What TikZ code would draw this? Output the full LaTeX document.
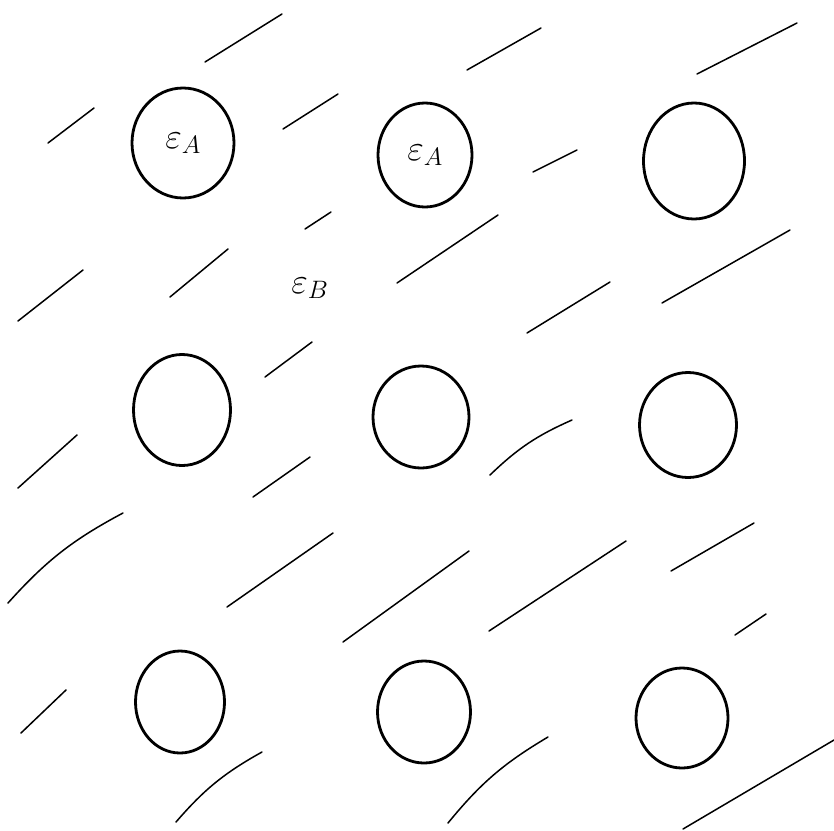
\RequirePackage{fix-cm}
\documentclass[tikz,border=0pt]{standalone}
\usetikzlibrary{shapes.geometric}

\begin{document}
\begin{tikzpicture}[
  x=1pt, y=-1pt,
  line cap=round,
  cell/.style={ellipse, draw, line width=2.8pt, inner sep=0pt, font=\fontsize{36}{40}\selectfont},
  hatch/.style={draw, line width=1.5pt},
  lbl/.style={font=\fontsize{36}{40}\selectfont}
]
  \useasboundingbox (0,0) rectangle (834,830);

  % grid of holes
  \node[cell, minimum width=102pt, minimum height=110pt] (c1) at (183,143) {$\varepsilon_A$};
  \node[cell, minimum width=94pt,  minimum height=104pt] (c2) at (425,155) {$\varepsilon_A$};
  \node[cell, minimum width=101pt, minimum height=116pt] (c3) at (694,161) {};
  \node[cell, minimum width=97pt,  minimum height=111pt] (c4) at (182,410) {};
  \node[cell, minimum width=96pt,  minimum height=102pt] (c5) at (421,417) {};
  \node[cell, minimum width=97pt,  minimum height=105pt] (c6) at (688,425) {};
  \node[cell, minimum width=89pt,  minimum height=102pt] (c7) at (180,702) {};
  \node[cell, minimum width=93pt,  minimum height=102pt] (c8) at (424,712) {};
  \node[cell, minimum width=92pt,  minimum height=100pt] (c9) at (682,718) {};

  % surrounding medium
  \node[lbl] (epsB) at (310,288) {$\varepsilon_B$};

  % hatching
  \foreach \xa/\ya/\xb/\yb in {205/62/282/14, 48/143/94/108, 283/129/338/94,
      305/229/331/212, 170/297/228/249, 18/321/83/270, 467/70/541/28,
      697/74/797/23, 533/172/577/150, 397/283/498/215, 662/303/790/230,
      265/377/312/342, 18/488/77/435, 253/497/310/457, 527/333/610/282,
      671/571/754/523, 227/607/333/533, 343/642/469/551, 489/631/626/541,
      735/635/766/614, 21/733/66/690, 683/829/834/740}
    \draw[hatch] (\xa,\ya) -- (\xb,\yb);
  \foreach \xa/\ya/\xb/\yb in {8/603/123/513, 490/475/572/420,
      176/822/262/752, 448/823/548/737}
    \draw[hatch] (\xa,\ya) to[bend left=10] (\xb,\yb);
\end{tikzpicture}
\end{document}
